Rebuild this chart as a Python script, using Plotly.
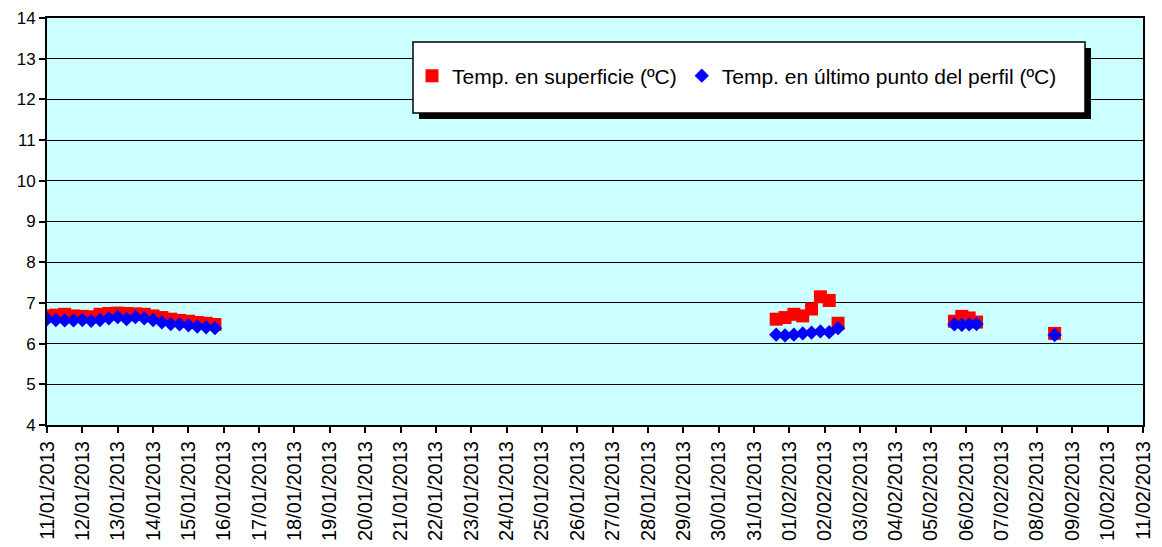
import plotly.graph_objects as go

# ---- data ----
t_cluster1 = [f"2013-01-{11 + i // 4:02d} {(i % 4) * 6:02d}:00" for i in range(20)]
t_cluster2 = ["2013-01-31 15:00", "2013-01-31 21:00", "2013-02-01 03:00", "2013-02-01 09:00",
              "2013-02-01 15:00", "2013-02-01 21:00", "2013-02-02 03:00", "2013-02-02 09:00"]
t_cluster3 = ["2013-02-05 16:00", "2013-02-05 21:00", "2013-02-06 02:00", "2013-02-06 07:00"]
t_cluster4 = ["2013-02-08 12:00"]

times = t_cluster1 + t_cluster2 + t_cluster3 + t_cluster4

temp_superficie = [6.68, 6.70, 6.72, 6.68, 6.67, 6.66, 6.72, 6.74, 6.75, 6.74,
                   6.73, 6.72, 6.68, 6.64, 6.60, 6.57, 6.55, 6.52, 6.50, 6.47,
                   6.60, 6.64, 6.72, 6.68, 6.85, 7.15, 7.06, 6.50,
                   6.55, 6.67, 6.63, 6.53,
                   6.25]
temp_ultimo = [6.60, 6.58, 6.57, 6.57, 6.58, 6.56, 6.58, 6.62, 6.65, 6.60,
               6.65, 6.62, 6.58, 6.52, 6.48, 6.47, 6.45, 6.42, 6.40, 6.38,
               6.22, 6.20, 6.22, 6.25, 6.27, 6.30, 6.28, 6.38,
               6.47, 6.46, 6.47, 6.48,
               6.21]

legend_names = ["Temp. en superficie (ºC)", "Temp. en último punto del perfil (ºC)"]
x_range = ["2013-01-11", "2013-02-11"]
y_range = [4, 14]

FONT = "Arial, Liberation Sans, sans-serif"

# plot area in window pixels (page body adds 8px offset)
PL, PR, PT, PB = 47, 1143, 18, 425
PW, PH = PR - PL, PB - PT


def px_x(x):
    return (x - PL) / PW


def px_y(y):
    return (PB - y) / PH


fig = go.Figure()
fig.add_trace(go.Scatter(
    x=times, y=temp_superficie, mode="markers", name=legend_names[0],
    marker=dict(symbol="square", size=13, color="#FF0000", line=dict(width=0)),
))
fig.add_trace(go.Scatter(
    x=times, y=temp_ultimo, mode="markers", name=legend_names[1],
    marker=dict(symbol="diamond", size=11, color="#0000FF", line=dict(width=0)),
))

# legend box with shadow
fig.add_shape(type="rect", xref="paper", yref="paper",
              x0=px_x(419), x1=px_x(1091), y0=px_y(119), y1=px_y(48),
              fillcolor="black", line=dict(width=0), layer="above")
fig.add_shape(type="rect", xref="paper", yref="paper",
              x0=px_x(413), x1=px_x(1085), y0=px_y(113), y1=px_y(42),
              fillcolor="white", line=dict(color="black", width=1.5), layer="above")

fig.update_layout(
    width=1154, height=539,
    margin=dict(l=39, r=19, t=10, b=122, autoexpand=False),
    paper_bgcolor="white",
    plot_bgcolor="#CCFFFF",
    font=dict(family=FONT, size=15, color="black"),
    showlegend=True,
    legend=dict(
        orientation="h", x=px_x(412), y=px_y(76), xanchor="left", yanchor="middle",
        bgcolor="rgba(0,0,0,0)", borderwidth=0,
        font=dict(family=FONT, size=21, color="black"),
        itemwidth=30,
    ),
    xaxis=dict(
        type="date", range=x_range, dtick=86400000, tick0="2013-01-11",
        tickformat="%d/%m/%Y", tickangle=-90,
        tickfont=dict(family=FONT, size=20, color="black"),
        showgrid=False, showline=True, linecolor="black", linewidth=2,
        mirror=True, ticks="outside", ticklen=6, tickwidth=2, tickcolor="black",
        zeroline=False,
    ),
    yaxis=dict(
        range=y_range, dtick=1, tick0=4,
        tickfont=dict(family=FONT, size=17, color="black"),
        showgrid=True, gridcolor="#000000", gridwidth=1,
        showline=True, linecolor="black", linewidth=2, mirror=True,
        ticks="outside", ticklen=6, tickwidth=2, tickcolor="black",
        zeroline=False,
    ),
)

fig.write_html("out.html")
